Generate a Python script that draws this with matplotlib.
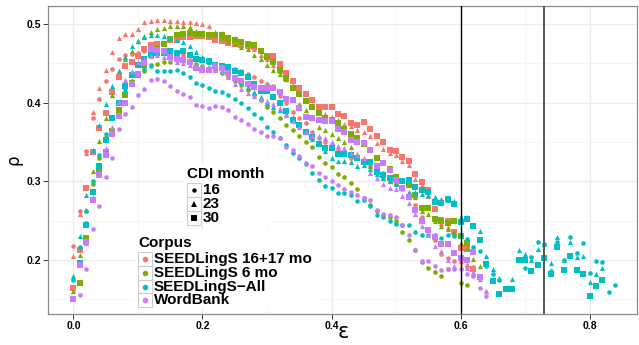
import numpy as np
import matplotlib
matplotlib.use("Agg")
from matplotlib import pyplot as plt
import matplotlib.patches as patches
from matplotlib.lines import Line2D

nan = np.nan

corpora = ["SEEDLingS 16+17 mo", "SEEDLingS 6 mo", "SEEDLingS\u2212All", "WordBank"]
cdi_months = ["16", "23", "30"]

# rho per epsilon step of 0.01, starting at epsilon = 0
red_16 = [0.218, 0.262, 0.338, 0.380, 0.404, 0.427, 0.443, 0.456, 0.460, 0.462,
          0.463, 0.465, 0.466, 0.466, 0.465, 0.464, 0.462, 0.461, 0.459, 0.457,
          0.455, 0.452, 0.449, 0.447, 0.444, 0.443, 0.440, 0.436, 0.432, 0.427,
          0.424, 0.421, 0.408, 0.399, 0.388, 0.380, 0.374, 0.362, 0.355, 0.350,
          0.345, 0.340, 0.336, 0.330, 0.329, 0.325, 0.320, 0.315, 0.310, 0.301,
          0.296, 0.290, 0.282, 0.270, 0.255, 0.240, 0.225, 0.208, 0.202, 0.199,
          0.197, 0.191, 0.191]
red_23 = [0.205, 0.259, 0.336, 0.388, 0.419, 0.441, 0.464, 0.482, 0.487, 0.487,
          0.493, 0.502, 0.504, 0.505, 0.505, 0.504, 0.504, 0.503, 0.502, 0.501,
          0.500, 0.497, 0.490, 0.488, 0.485, 0.482, 0.478, 0.474, 0.468, 0.461,
          0.455, 0.448, 0.440, 0.430, 0.422, 0.412, 0.403, 0.397, 0.389, 0.385,
          0.382, 0.378, 0.373, 0.370, 0.365, 0.363, 0.357, 0.349, 0.341, 0.336,
          0.334, 0.326, 0.321, 0.303, 0.295, 0.281, 0.265, 0.247, 0.242, 0.236,
          nan, 0.195, 0.184]
red_30 = [0.165, 0.213, 0.292, 0.337, 0.368, 0.387, 0.413, 0.432, 0.446, 0.452,
          0.459, 0.468, 0.473, 0.474, 0.474, 0.479, 0.480, 0.483, 0.483, 0.484,
          0.484, 0.483, 0.480, 0.478, 0.476, 0.475, 0.473, 0.472, 0.471, 0.465,
          0.459, 0.459, 0.449, 0.438, 0.427, 0.419, 0.411, 0.403, 0.395, 0.395,
          0.395, 0.386, 0.383, 0.374, 0.371, 0.375, 0.367, 0.357, 0.350, 0.340,
          0.338, 0.331, 0.326, 0.309, 0.299, 0.289, 0.265, 0.251, 0.249, 0.236,
          0.215, 0.214, 0.189]

green_16 = [nan, nan, 0.247, 0.297, 0.330, 0.356, 0.381, 0.400, 0.418, 0.428,
            0.436, 0.440, 0.448, 0.449, 0.451, 0.452, 0.454, 0.455, 0.452, 0.449,
            0.447, 0.444, 0.441, 0.437, 0.432, 0.428, 0.422, 0.416, 0.410, 0.403,
            0.395, 0.388, 0.380, 0.372, 0.365, 0.358, 0.350, 0.344, 0.331, 0.323,
            0.318, 0.309, 0.305, 0.298, 0.290, 0.279, 0.270, 0.262, 0.257, 0.254,
            0.249, 0.236, 0.225, 0.213, 0.197, 0.190, 0.185, 0.180, 0.189, nan,
            0.171, 0.168]
green_23 = [0.160, 0.206, 0.263, 0.313, 0.351, 0.381, 0.410, 0.440, 0.455, 0.465,
            0.478, 0.485, 0.490, 0.493, 0.495, 0.497, 0.497, 0.497, 0.496, 0.491,
            0.489, 0.487, 0.486, 0.482, 0.478, 0.474, 0.471, 0.468, 0.460, 0.456,
            0.448, 0.441, 0.436, 0.430, 0.405, 0.398, 0.390, 0.380, 0.369, 0.365,
            0.360, 0.355, 0.350, 0.344, 0.335, 0.328, 0.320, 0.312, 0.305, 0.300,
            0.298, 0.293, 0.285, 0.280, 0.262, 0.258, 0.250, 0.243, 0.240, 0.236,
            0.222, 0.215, 0.201, 0.192, 0.161]
green_30 = [nan, 0.171, 0.228, nan, 0.314, 0.337, 0.364, 0.390, 0.410, 0.425,
            0.435, 0.448, 0.460, 0.468, 0.475, 0.481, 0.486, 0.487, 0.488, 0.487,
            0.487, 0.486, 0.486, 0.486, 0.482, 0.479, 0.477, 0.475, 0.473, 0.466,
            0.458, 0.451, 0.441, 0.431, 0.419, 0.411, 0.402, 0.395, 0.387, 0.380,
            0.378, 0.374, 0.367, 0.360, 0.355, 0.348, 0.340, 0.330, 0.323, 0.315,
            0.305, 0.300, 0.295, 0.283, 0.266, 0.266, 0.252, 0.250, 0.247, 0.249,
            0.230, 0.221]

cyan_16 = [0.174, 0.216, 0.262, 0.301, 0.333, 0.360, 0.382, 0.400, 0.415, 0.425,
           0.437, 0.443, 0.446, 0.440, 0.440, 0.440, 0.442, 0.438, 0.433, 0.425,
           0.422, 0.419, 0.415, 0.413, 0.410, 0.405, 0.399, 0.393, 0.386, 0.380,
           0.369, 0.363, 0.355, 0.346, 0.336, 0.329, 0.322, 0.310, 0.302, 0.294,
           0.291, 0.285, 0.285, 0.283, 0.275, 0.276, 0.268, 0.257, 0.255, 0.250,
           0.246, 0.245, 0.245, 0.235, 0.232, 0.232, 0.232, 0.228, 0.232, 0.230,
           0.230, 0.227, 0.217, 0.212, 0.192, 0.182, 0.175, 0.164, 0.164, 0.200,
           0.190, 0.204, 0.223, 0.220, 0.186, 0.223, 0.200, 0.229, 0.209, 0.221,
           0.184, 0.199, 0.198, 0.159, 0.168]
cyan_23 = [0.180, 0.231, 0.282, 0.340, 0.372, 0.398, 0.421, 0.440, 0.458, 0.472,
           0.478, 0.483, 0.486, 0.486, 0.485, 0.482, 0.479, 0.477, 0.472, 0.464,
           0.458, 0.452, 0.447, 0.442, 0.437, 0.432, 0.426, 0.420, 0.414, 0.407,
           0.400, 0.395, 0.390, 0.386, 0.382, 0.372, 0.362, 0.354, 0.347, 0.338,
           0.330, 0.326, 0.326, 0.324, 0.319, 0.321, 0.315, 0.309, 0.304, 0.300,
           0.297, 0.292, 0.287, 0.286, 0.284, 0.282, 0.280, 0.278, 0.276, 0.275,
           0.255, 0.254, nan, 0.237, 0.205, 0.189, 0.177, nan, 0.176, 0.213,
           0.207, 0.200, 0.214, 0.220, 0.196, 0.229, 0.200, 0.223, 0.204, 0.205,
           0.172, 0.182, 0.190]
cyan_30 = [nan, 0.196, 0.245, 0.287, 0.320, 0.352, 0.380, 0.400, 0.421, 0.435,
           0.448, 0.455, 0.461, 0.463, 0.463, 0.465, 0.463, 0.465, 0.460, 0.456,
           0.454, 0.453, 0.448, 0.446, 0.445, 0.440, 0.437, 0.432, 0.424, 0.415,
           0.415, 0.407, 0.399, 0.389, 0.378, 0.371, 0.362, 0.356, 0.347, 0.342,
           0.342, 0.335, 0.335, 0.333, 0.330, 0.325, 0.324, 0.312, 0.308, 0.304,
           0.302, 0.301, 0.302, 0.293, 0.289, 0.286, 0.274, 0.272, 0.277, 0.271,
           0.248, 0.252, 0.243, 0.226, 0.195, 0.173, 0.157, 0.163, 0.163, 0.200,
           0.200, 0.186, 0.194, 0.203, 0.182, 0.216, 0.187, 0.205, 0.187, 0.182,
           0.154, 0.167, 0.175]

purple_16 = [nan, 0.155, 0.189, 0.239, 0.268, 0.306, 0.330, 0.367, 0.385, 0.395,
             0.410, 0.417, 0.429, 0.430, 0.428, 0.421, 0.415, 0.411, 0.407, 0.397,
             0.396, 0.393, 0.396, 0.395, 0.391, 0.382, 0.378, 0.373, 0.366, 0.362,
             0.357, 0.357, 0.355, 0.344, 0.340, 0.332, 0.323, 0.319, 0.310, 0.305,
             0.300, 0.295, 0.290, 0.287, 0.283, 0.279, 0.276, 0.263, 0.259, 0.257,
             0.254, 0.245, 0.232, 0.213, 0.199, 0.199, 0.192, 0.187, 0.188, 0.189,
             0.189, 0.182, 0.180, 0.165, 0.154]
purple_23 = [nan, 0.196, 0.221, 0.280, 0.310, 0.342, 0.369, 0.401, 0.429, 0.440,
             0.452, 0.456, 0.459, 0.460, 0.458, 0.455, 0.452, 0.450, 0.448, 0.447,
             0.446, 0.445, 0.442, 0.440, 0.432, 0.424, 0.417, 0.412, 0.408, 0.405,
             0.402, 0.398, 0.393, 0.384, 0.376, 0.369, 0.362, 0.357, 0.357, 0.355,
             0.350, 0.345, 0.342, 0.336, 0.333, 0.330, 0.310, 0.304, 0.297, 0.292,
             0.290, 0.281, 0.272, 0.258, 0.243, 0.232, 0.218, 0.212, 0.200, 0.192,
             0.203, 0.190, 0.185, 0.176, 0.160]
purple_30 = [0.150, 0.194, 0.223, 0.276, 0.308, 0.333, 0.360, 0.383, 0.400, 0.423,
             0.436, 0.450, 0.468, 0.467, 0.465, 0.458, 0.456, 0.454, 0.452, 0.444,
             0.442, 0.441, 0.446, 0.444, 0.437, 0.431, 0.427, 0.423, 0.420, 0.419,
             0.418, 0.418, 0.414, 0.404, 0.403, 0.393, 0.382, 0.381, 0.378, 0.377,
             0.376, 0.366, 0.362, 0.353, 0.350, 0.349, 0.340, 0.319, 0.323, 0.314,
             0.302, 0.292, 0.280, 0.264, 0.249, 0.238, 0.229, 0.220, 0.220, 0.209,
             0.203, 0.200, 0.210, 0.178]

eps_step = 0.01
cutoffs = [0.6, 0.73]

series = [
    [red_16, red_23, red_30],
    [green_16, green_23, green_30],
    [cyan_16, cyan_23, cyan_30],
    [purple_16, purple_23, purple_30],
]

colors = ["#F8766D", "#7CAE00", "#00BFC4", "#C77CFF"]
markers = ["o", "^", "s"]
sizes = [11, 14, 17]

W, H = 639, 345
FONT = "Liberation Sans"


def fx(px):
    return px / W


def fy(py):
    return 1 - py / H


fig = plt.figure(figsize=(W / 100, H / 100), dpi=100)
ax = fig.add_axes([fx(48), fy(314), fx(637) - fx(48), fy(6) - fy(314)])

for ci, group in enumerate(series):
    for mi, vals in enumerate(group):
        y = np.array(vals, dtype=float)
        x = np.arange(len(y)) * eps_step
        ax.scatter(x, y, s=sizes[mi], marker=markers[mi], color=colors[ci],
                   linewidths=0, zorder=3)

ax.axvline(cutoffs[0], color="black", lw=1.0, zorder=4)
ax.axvline(cutoffs[1], color="#555555", lw=1.4, zorder=4)

ax.set_xlim(-0.0395, 0.8736)
ax.set_ylim(0.1314, 0.5227)
ax.set_xticks([0.0, 0.2, 0.4, 0.6, 0.8])
ax.set_xticks([0.1, 0.3, 0.5, 0.7], minor=True)
ax.set_yticks([0.2, 0.3, 0.4, 0.5])
ax.set_yticks([0.15, 0.25, 0.35, 0.45], minor=True)
ax.set_xticklabels(["0.0", "0.2", "0.4", "0.6", "0.8"])
ax.set_yticklabels(["0.2", "0.3", "0.4", "0.5"])
ax.grid(True, which="major", color="#ebebeb", lw=1.0, zorder=0)
ax.grid(True, which="minor", color="#f5f5f5", lw=0.6, zorder=0)
ax.set_axisbelow(True)
ax.tick_params(which="major", length=3.3, width=0.7, color="#333333", pad=1.5,
               labelsize=7.5)
ax.tick_params(which="minor", length=0)
for lab in ax.get_xticklabels() + ax.get_yticklabels():
    lab.set_fontweight("bold")
    lab.set_family(FONT)
for sp in ax.spines.values():
    sp.set_color("#8c8c8c")
    sp.set_linewidth(0.9)

fig.text(fx(13), fy(160), "\u03c1", rotation=90, ha="center", va="center",
         fontsize=12)
fig.text(fx(343), fy(332), "\u03b5", ha="center", va="center", fontsize=15)


# legends drawn by hand, ggplot style
def key_box(x0, yc, size=14):
    fig.patches.append(patches.Rectangle((fx(x0), fy(yc + size / 2)), size / W, size / H,
                                         transform=fig.transFigure, facecolor="white",
                                         edgecolor="#cccccc", lw=0.8, zorder=5))


fig.patches.append(patches.Rectangle((fx(184), fy(226)), 86 / W, 63 / H,
                                     transform=fig.transFigure, facecolor="white",
                                     edgecolor="none", zorder=4))
fig.text(fx(187), fy(174), "CDI month", fontsize=11, fontweight="bold", family=FONT,
         va="center", ha="left", zorder=6)
month_rows = [190, 204, 217.7]
month_ms = [3.2, 3.8, 4.4]
for mi, label in enumerate(cdi_months):
    yc = month_rows[mi]
    key_box(186.5, yc)
    fig.lines.append(Line2D([fx(193.5)], [fy(yc)], marker=markers[mi], color="black",
                            ms=month_ms[mi], mew=0, ls="none",
                            transform=fig.transFigure, zorder=6))
    fig.text(fx(202.5), fy(yc), label, fontsize=11, fontweight="bold", family=FONT,
             va="center", ha="left", zorder=6)

fig.patches.append(patches.Rectangle((fx(135), fy(308)), 184 / W, 78 / H,
                                     transform=fig.transFigure, facecolor="white",
                                     edgecolor="none", zorder=4))
fig.text(fx(138), fy(243), "Corpus", fontsize=11, fontweight="bold", family=FONT,
         va="center", ha="left", zorder=6)
corpus_rows = [259, 272.7, 286.5, 300]
for ci, label in enumerate(corpora):
    yc = corpus_rows[ci]
    key_box(137.7, yc)
    fig.lines.append(Line2D([fx(144.7)], [fy(yc)], marker="o", color=colors[ci],
                            ms=4.0, mew=0, ls="none",
                            transform=fig.transFigure, zorder=6))
    fig.text(fx(153.5), fy(yc), label, fontsize=11, fontweight="bold", family=FONT,
             va="center", ha="left", zorder=6)

plt.savefig("out.png", dpi=100)
